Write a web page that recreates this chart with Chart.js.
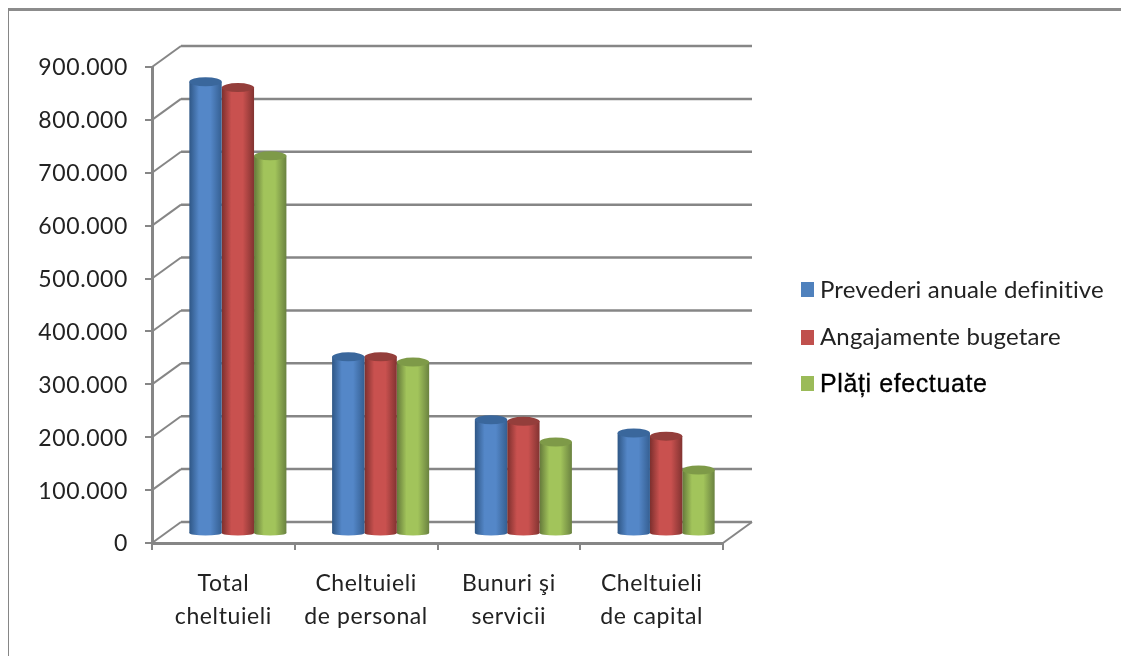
<!DOCTYPE html>
<html>
<head>
<meta charset="utf-8">
<script src="https://cdn.jsdelivr.net/npm/chart.js@4"></script>
<style>
    html, body { margin: 0; padding: 0; background: #fff; overflow: hidden; }
    #wrap { position: relative; width: 1121px; height: 656px; }
    #grafic { position: absolute; left: 0; top: 0; }
    #ramaSus { position: absolute; left: 8px; top: 8px; width: 1113px; height: 3px; background: #8c8c8c; }
    #ramaStg { position: absolute; left: 8px; top: 8px; width: 1px; height: 648px; background: #868686; }
    .leg { position: absolute; left: 820px; font: 24px Lato, sans-serif; letter-spacing: 0.15px; color: #222; white-space: nowrap; line-height: 28px; }
    .leg.bold { font: 25px "Liberation Sans", sans-serif; letter-spacing: 0.6px; color: #000; -webkit-text-stroke: 0.3px #000; }
    .sw { position: absolute; left: 801px; width: 13px; height: 15px; }
</style>
</head>
<body>
<div id="wrap">
    <canvas id="grafic" width="1121" height="656"></canvas>
    <div id="ramaSus"></div>
    <div id="ramaStg"></div>
    <div id="legenda"></div>
</div>
<script>
const categorii = [["Total", "cheltuieli"], ["Cheltuieli", "de personal"], ["Bunuri şi", "servicii"], ["Cheltuieli", "de capital"]];
const prevederi = [855000, 335000, 216000, 191000];
const angajamente = [844000, 335000, 213000, 185000];
const plati = [715000, 325000, 174000, 121000];
const serii = ["Prevederi anuale definitive", "Angajamente bugetare", "Plăți efectuate"];
const culori = ["#4f81bd", "#c0504d", "#9bbb59"];
// margine, centru, margine dreapta, capac
const nuante = [
    ["#2f5786", "#5487c8", "#355f92", "#3a679c"],
    ["#7c2f2d", "#c9514f", "#823331", "#943e3b"],
    ["#64793a", "#a2c45b", "#6a8240", "#7e9a48"]
];
const gri = "#868686";
const dx = 29, dy = 21;      // adancimea peretelui din spate
const barDx = 14.5, barDy = 9, razaSus = 4.5, razaJos = 2.5;
const procent = 0.68;

function gradient(c) {
    const scala = c.chart.scales.x;
    if (!scala || !scala.width) return culori[c.datasetIndex];
    const w = scala.width / categorii.length * procent / 3;
    const stg = scala.getPixelForValue(c.dataIndex) + (c.datasetIndex - 1.5) * w;
    const g = c.chart.ctx.createLinearGradient(stg, 0, stg + w, 0);
    const n = nuante[c.datasetIndex];
    g.addColorStop(0, n[0]);
    g.addColorStop(0.3, n[1]);
    g.addColorStop(0.65, n[1]);
    g.addColorStop(1, n[2]);
    return g;
}

const perete = {
    id: "perete",
    beforeDraw(chart) {
        chart.ctx.letterSpacing = "0.6px";
    },
    beforeDatasetsDraw(chart) {
        const { ctx, scales: { x, y } } = chart;
        const ultim = x.right;
        ctx.save();
        ctx.strokeStyle = gri;
        y.ticks.forEach(t => {
            const py = y.getPixelForValue(t.value);
            ctx.lineWidth = 2;
            ctx.beginPath();
            ctx.moveTo(x.left, py);
            ctx.lineTo(x.left + dx, py - dy);
            ctx.stroke();
            ctx.lineWidth = 2.5;
            ctx.beginPath();
            ctx.moveTo(x.left + dx, py - dy);
            ctx.lineTo(ultim + dx, py - dy);
            ctx.stroke();
        });
        ctx.lineWidth = 2;
        ctx.beginPath();
        ctx.moveTo(ultim, y.bottom);
        ctx.lineTo(ultim + dx, y.bottom - dy);
        ctx.stroke();
        ctx.restore();
    },
    beforeDatasetDraw(chart, args) {
        const ctx = chart.ctx;
        ctx.save();
        ctx.translate(barDx, -barDy);
        chart.getDatasetMeta(args.index).data.forEach(el => {
            ctx.fillStyle = el.options.backgroundColor;
            ctx.beginPath();
            ctx.ellipse(el.x, el.base, el.width / 2, razaJos, 0, 0, Math.PI * 2);
            ctx.fill();
        });
    },
    afterDatasetDraw(chart, args) {
        const ctx = chart.ctx;
        chart.getDatasetMeta(args.index).data.forEach(el => {
            ctx.fillStyle = nuante[args.index][3];
            ctx.beginPath();
            ctx.ellipse(el.x, el.y, el.width / 2, razaSus, 0, 0, Math.PI * 2);
            ctx.fill();
        });
        ctx.restore();
    }
};

new Chart(document.getElementById("grafic"), {
    type: "bar",
    data: {
        labels: categorii,
        datasets: [
            { label: serii[0], data: prevederi, backgroundColor: gradient, categoryPercentage: procent, barPercentage: 1, clip: false },
            { label: serii[1], data: angajamente, backgroundColor: gradient, categoryPercentage: procent, barPercentage: 1, clip: false },
            { label: serii[2], data: plati, backgroundColor: gradient, categoryPercentage: procent, barPercentage: 1, clip: false }
        ]
    },
    options: {
        responsive: false,
        animation: false,
        layout: { padding: { top: 67, right: 398, left: 0, bottom: 0 } },
        plugins: { legend: { display: false }, tooltip: { enabled: false } },
        scales: {
            x: {
                afterFit: s => { s.height = 113; },
                border: { color: gri, width: 3 },
                grid: { color: gri, lineWidth: 2, drawOnChartArea: false, tickLength: 7 },
                ticks: { color: "#222", font: { family: "Lato", size: 23, lineHeight: 1.44 }, padding: 17, maxRotation: 0 }
            },
            y: {
                min: 0,
                max: 900000,
                afterFit: s => { s.width = 152; },
                border: { color: gri, width: 3 },
                grid: { color: gri, lineWidth: 2, drawOnChartArea: false, tickLength: 7 },
                ticks: {
                    color: "#222",
                    stepSize: 100000,
                    padding: 17,
                    labelOffset: 1,
                    font: { family: "Lato", size: 23 },
                    callback: v => v === 0 ? "0" : (v / 1000) + ".000"
                }
            }
        }
    },
    plugins: [perete]
});

// legenda are fonturi diferite pe randuri, deci o fac in html
const pozitii = [275, 322, 369];
const swY = [282, 330, 376];
const legenda = document.getElementById("legenda");
serii.forEach((nume, i) => {
    const sw = document.createElement("div");
    sw.className = "sw";
    sw.style.top = swY[i] + "px";
    sw.style.background = culori[i];
    const txt = document.createElement("div");
    txt.className = i === 2 ? "leg bold" : "leg";
    txt.style.top = pozitii[i] + "px";
    txt.textContent = nume;
    legenda.appendChild(sw);
    legenda.appendChild(txt);
});
</script>
</body>
</html>
